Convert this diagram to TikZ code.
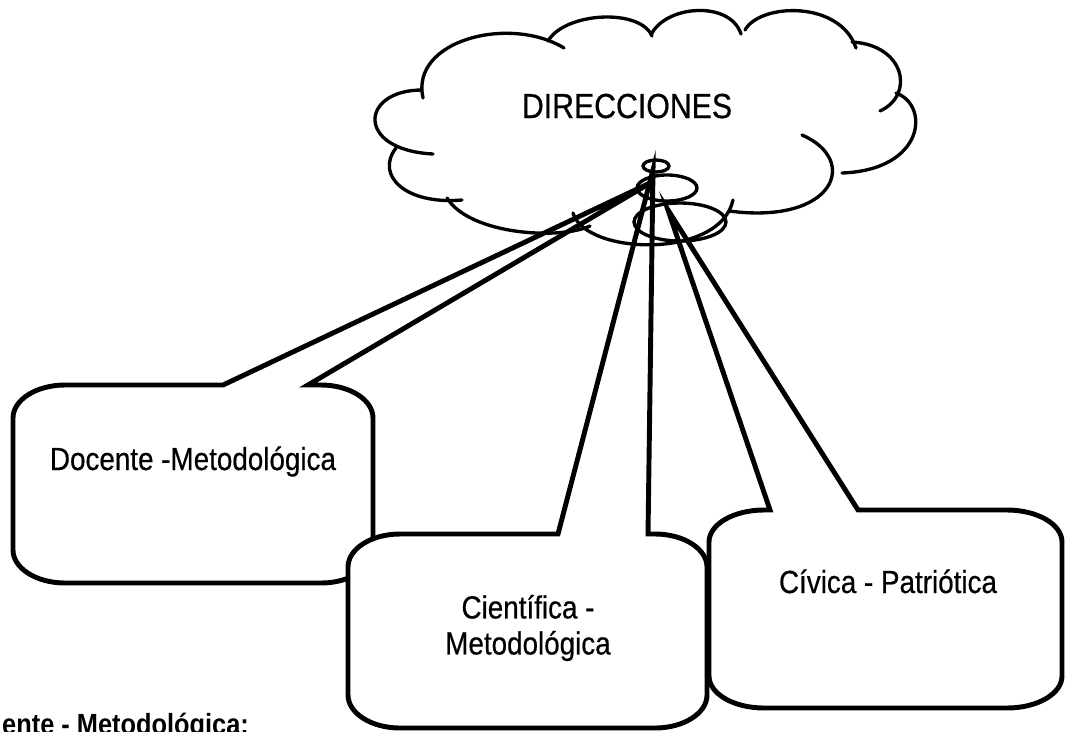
\documentclass[tikz,border=0pt]{standalone}
\usepackage{fontspec}
\setmainfont[FakeStretch=0.87,UprightFeatures={FakeBold=0.5}]{Liberation Sans}
\usepackage{tikz}

\begin{document}
\begin{tikzpicture}
  [x=0.02cm,y=-0.02cm,
   cloudline/.style={line width=1.9pt,line cap=round},
   boxline/.style={line width=2.8pt,fill=white,line join=miter},
   boxtext/.style={font=\fontsize{18.2}{20.5}\selectfont,align=center}]

  \useasboundingbox (0,0) rectangle (1067,731);
  \clip (0,0) rectangle (1067,731);

  \coordinate (a1) at (652,182);
  \coordinate (a2) at (653,170);
  \coordinate (a3) at (668,210);

  % callouts
  \draw[boxline] (65,385) -- (223,385) -- (a1) -- (308,385) -- (321,385) .. controls (349.7,385) and (373,399.8) .. (373,418) -- (373,550) .. controls (373,568.2) and (349.7,583) .. (321,583) -- (65,583) .. controls (36.3,583) and (13,568.2) .. (13,550) -- (13,418) .. controls (13,399.8) and (36.3,385) .. cycle;
  \draw[boxline] (400,534) -- (558,534) -- (a2) -- (648,534) -- (655,534) .. controls (683.7,534) and (707,548.8) .. (707,567) -- (707,695) .. controls (707,713.2) and (683.7,728) .. (655,728) -- (400,728) .. controls (371.3,728) and (348,713.2) .. (348,695) -- (348,567) .. controls (348,548.8) and (371.3,534) .. cycle;
  \draw[boxline] (764,510) -- (770,510) -- (a3) -- (858,510) -- (1007,510) .. controls (1037.4,510) and (1062,524.3) .. (1062,542) -- (1062,676) .. controls (1062,693.7) and (1037.4,708) .. (1007,708) -- (764,708) .. controls (733.6,708) and (709,693.7) .. (709,676) -- (709,542) .. controls (709,524.3) and (733.6,510) .. cycle;

  % cloud
  \draw[cloudline] (423,98) .. controls (410,40) and (510,15) .. (564,48);
  \draw[cloudline] (548,41) .. controls (565,12) and (640,8) .. (652,36);
  \draw[cloudline] (651,35) .. controls (665,5) and (730,0) .. (741,34);
  \draw[cloudline] (745,30) .. controls (760,3) and (840,0) .. (856,48);
  \draw[cloudline] (852,42) .. controls (905,45) and (915,95) .. (880,111);
  \draw[cloudline] (896,93) .. controls (930,105) and (925,170) .. (842,173);
  \draw[cloudline] (802,135) .. controls (860,160) and (835,225) .. (729,211);
  \draw[cloudline] (733,200) .. controls (720,260) and (585,255) .. (573,213);
  \draw[cloudline] (447,198) .. controls (470,235) and (560,240) .. (590,226);
  \draw[cloudline] (396,148) .. controls (375,175) and (405,205) .. (462,200);
  \draw[cloudline] (422,90) .. controls (360,90) and (355,150) .. (433,154);
  \foreach \cx/\cy/\rx/\ry in {656/166/0.26/0.12,667/188/0.6/0.26,680/222/0.92/0.38}
    \draw[cloudline] (\cx,\cy) ellipse [x radius=\rx cm, y radius=\ry cm];

  \node[font=\fontsize{19.8}{22}\selectfont,anchor=base] (dir) at (627,118) {DIRECCIONES};
  \node[boxtext,anchor=base] (doc) at (193,470) {Docente -Metodológica};
  \node[boxtext,anchor=center] (cie) at (528,628) {Científica -\\Metodológica};
  \node[boxtext,anchor=base] (civ) at (888,593) {Cívica - Patriótica};
  \node[font=\bfseries\fontsize{16.6}{20}\selectfont,anchor=base west] (hd) at (-4,734) {ente - Metodológica:};
\end{tikzpicture}
\end{document}
